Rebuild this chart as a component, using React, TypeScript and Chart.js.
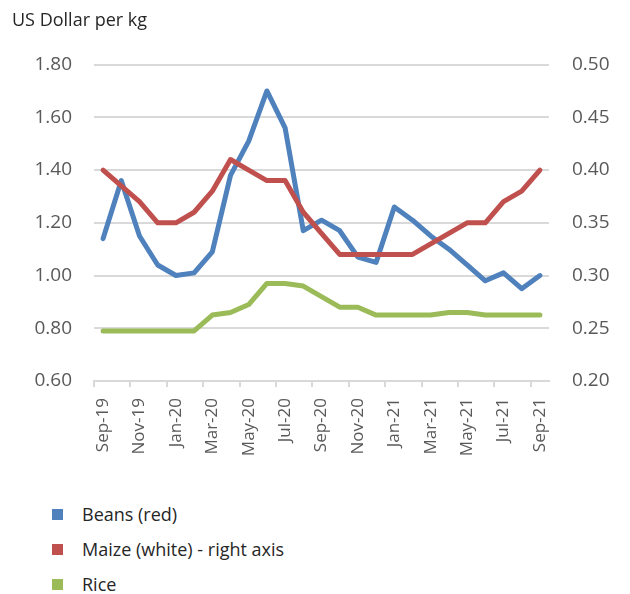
import React, { useEffect, useRef } from "react";
import { Chart, registerables } from "chart.js";

Chart.register(...registerables);

const months = [
  "Sep-19", "Oct-19", "Nov-19", "Dec-19", "Jan-20", "Feb-20", "Mar-20", "Apr-20", "May-20",
  "Jun-20", "Jul-20", "Aug-20", "Sep-20", "Oct-20", "Nov-20", "Dec-20", "Jan-21", "Feb-21",
  "Mar-21", "Apr-21", "May-21", "Jun-21", "Jul-21", "Aug-21", "Sep-21",
];
const beans = [1.14, 1.36, 1.15, 1.04, 1.0, 1.01, 1.09, 1.38, 1.51, 1.7, 1.56, 1.17, 1.21, 1.17, 1.07, 1.05, 1.26, 1.21, 1.15, 1.1, 1.04, 0.98, 1.01, 0.95, 1.0];
const maize = [0.4, 0.385, 0.37, 0.35, 0.35, 0.36, 0.38, 0.41, 0.4, 0.39, 0.39, 0.36, 0.34, 0.32, 0.32, 0.32, 0.32, 0.32, 0.33, 0.34, 0.35, 0.35, 0.37, 0.38, 0.4];
const rice = [0.79, 0.79, 0.79, 0.79, 0.79, 0.79, 0.85, 0.86, 0.89, 0.97, 0.97, 0.96, 0.92, 0.88, 0.88, 0.85, 0.85, 0.85, 0.85, 0.86, 0.86, 0.85, 0.85, 0.85, 0.85];

const leftAxisTicks = [0.6, 0.8, 1.0, 1.2, 1.4, 1.6, 1.8];
const rightAxisTicks = [0.2, 0.25, 0.3, 0.35, 0.4, 0.45, 0.5];

const seriesNames = ["Beans (red)", "Maize (white) - right axis", "Rice"];
const seriesColors = ["#4f81bd", "#c0504d", "#9bbb59"];
const unitTitle = "US Dollar per kg";

const FONT = "'Open Sans', sans-serif";
const CANVAS_W = 630;
const CANVAS_H = 470;
const PLOT_LEFT = 94;
const PLOT_RIGHT = 549;
const PLOT_BOTTOM = 381;

export default function App() {
  const canvasRef = useRef<HTMLCanvasElement | null>(null);

  useEffect(() => {
    const canvas = canvasRef.current;
    if (!canvas) return;
    const lineCommon = {
      pointRadius: 0,
      pointHoverRadius: 0,
      borderWidth: 5,
      tension: 0,
      borderJoinStyle: "round" as const,
      borderCapStyle: "round" as const,
      fill: false,
    };
    const chart = new Chart(canvas, {
      type: "line",
      data: {
        labels: months,
        datasets: [
          { ...lineCommon, label: seriesNames[0], data: beans, borderColor: seriesColors[0], backgroundColor: seriesColors[0], yAxisID: "y", order: 3 },
          { ...lineCommon, label: seriesNames[1], data: maize, borderColor: seriesColors[1], backgroundColor: seriesColors[1], yAxisID: "y1", order: 2 },
          { ...lineCommon, label: seriesNames[2], data: rice, borderColor: seriesColors[2], backgroundColor: seriesColors[2], yAxisID: "y", order: 1 },
        ],
      },
      options: {
        responsive: false,
        animation: false,
        layout: { padding: { left: 12, right: 0, top: 0, bottom: 0 } },
        plugins: {
          legend: { display: false },
          tooltip: { enabled: false },
          title: {
            display: true,
            text: unitTitle,
            align: "start",
            color: "#262626",
            font: { family: FONT, size: 18, weight: "normal" },
            padding: { top: 10, bottom: 33 },
          },
        },
        scales: {
          x: {
            type: "category",
            offset: true,
            grid: {
              offset: true,
              drawOnChartArea: false,
              drawTicks: true,
              tickLength: 6,
              lineWidth: 2,
              color: (ctx: any) =>
                ctx.index !== undefined && ctx.index % 2 === 0 ? "#d9d9d9" : "rgba(0,0,0,0)",
            },
            border: { display: true, color: "#d9d9d9", width: 2 },
            ticks: {
              autoSkip: false,
              minRotation: 90,
              maxRotation: 90,
              padding: 11,
              color: "#595959",
              font: { family: FONT, size: 17 },
              callback: (_v: any, i: number) => (i % 2 === 0 ? months[i] : ""),
            },
            afterFit: (scale: any) => {
              scale.height = CANVAS_H - PLOT_BOTTOM;
            },
          },
          y: {
            position: "left",
            min: leftAxisTicks[0],
            max: leftAxisTicks[leftAxisTicks.length - 1],
            border: { display: false },
            grid: { color: "#d9d9d9", lineWidth: 2, drawTicks: false },
            ticks: {
              stepSize: leftAxisTicks[1] - leftAxisTicks[0],
              padding: 22,
              color: "#595959",
              font: { family: FONT, size: 19 },
              callback: (v: any) => Number(v).toFixed(2),
            },
            afterFit: (scale: any) => {
              scale.width = PLOT_LEFT - 12;
            },
          },
          y1: {
            position: "right",
            min: rightAxisTicks[0],
            max: rightAxisTicks[rightAxisTicks.length - 1],
            border: { display: false },
            grid: { drawOnChartArea: false, drawTicks: false },
            ticks: {
              stepSize: 0.05,
              padding: 23,
              color: "#595959",
              font: { family: FONT, size: 19 },
              callback: (v: any) => Number(v).toFixed(2),
            },
            afterFit: (scale: any) => {
              scale.width = CANVAS_W - PLOT_RIGHT;
            },
          },
        },
      },
    });
    return () => chart.destroy();
  }, []);

  const legendTops = [514, 549, 584];

  return (
    <div style={{ position: "absolute", left: 0, top: 0, width: CANVAS_W, height: 594, background: "#fff", fontFamily: FONT }}>
      <canvas ref={canvasRef} width={CANVAS_W} height={CANVAS_H} style={{ position: "absolute", left: 0, top: 0, width: CANVAS_W, height: CANVAS_H }} />
      {seriesNames.map((name, i) => (
        <div key={name} style={{ position: "absolute", left: 52, top: legendTops[i] - 13, height: 26, display: "flex", alignItems: "center", whiteSpace: "nowrap" }}>
          <span style={{ display: "inline-block", width: 11, height: 11, background: seriesColors[i], marginRight: 19 }} />
          <span style={{ fontSize: 18, color: "#262626", lineHeight: "26px" }}>{name}</span>
        </div>
      ))}
    </div>
  );
}
